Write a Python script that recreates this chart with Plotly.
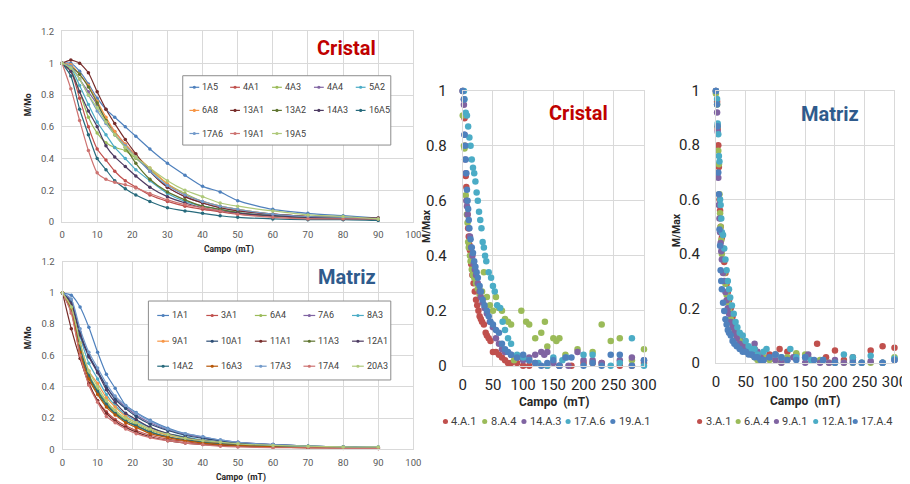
import plotly.graph_objects as go

W, H = 910, 484
FONT = "Roboto, Liberation Sans Narrow, sans-serif"

# ---------------- Excel palette ----------------
C_BLUE, C_RED, C_GREEN, C_PURPLE, C_AQUA, C_ORANGE = "#4F81BD", "#C0504D", "#9BBB59", "#8064A2", "#4BACC6", "#F79646"
C_DBLUE, C_DRED, C_DGREEN, C_DPURPLE, C_DTEAL, C_DORANGE = "#2C4D75", "#772C2A", "#5F7530", "#4D3B62", "#276A7C", "#B65708"
C_LBLUE, C_LRED, C_LGREEN = "#729ACA", "#CD7371", "#AFC97A"

# ---------------- Line charts (M/Mo vs Campo) ----------------
field_mT = [0, 2.5, 5, 7.5, 10, 12.5, 15, 18, 21, 25, 30, 35, 40, 45, 50, 60, 70, 80, 90]
x_ticks_left = [0, 10, 20, 30, 40, 50, 60, 70, 80, 90, 100]

# Cristal series
cr_1A5 = [1, 1.0, 0.95, 0.87, 0.78, 0.71, 0.66, 0.6, 0.54, 0.46, 0.37, 0.295, 0.225, 0.19, 0.135, 0.08, 0.055, 0.04, 0.025]
cr_4A1 = [1, 0.95, 0.78, 0.6, 0.46, 0.39, 0.32, 0.26, 0.22, 0.17, 0.13, 0.1, 0.08, 0.065, 0.05, 0.035, 0.025, 0.02, 0.02]
cr_4A3 = [1, 0.96, 0.82, 0.66, 0.56, 0.5, 0.47, 0.45, 0.4, 0.33, 0.24, 0.18, 0.13, 0.1, 0.08, 0.05, 0.035, 0.025, 0.02]
cr_4A4 = [1, 0.98, 0.9, 0.82, 0.74, 0.64, 0.57, 0.49, 0.42, 0.32, 0.22, 0.16, 0.12, 0.09, 0.07, 0.05, 0.035, 0.03, 0.02]
cr_5A2 = [1, 0.97, 0.86, 0.74, 0.63, 0.55, 0.47, 0.4, 0.33, 0.26, 0.18, 0.13, 0.1, 0.08, 0.06, 0.04, 0.03, 0.02, 0.02]
cr_6A8 = [1, 0.99, 0.93, 0.86, 0.76, 0.66, 0.57, 0.49, 0.42, 0.34, 0.24, 0.17, 0.13, 0.1, 0.08, 0.05, 0.035, 0.025, 0.02]
cr_13A1 = [1, 1.02, 1.0, 0.94, 0.82, 0.71, 0.62, 0.52, 0.43, 0.32, 0.22, 0.16, 0.12, 0.09, 0.07, 0.05, 0.035, 0.03, 0.025]
cr_13A2 = [1, 0.98, 0.93, 0.85, 0.75, 0.64, 0.55, 0.47, 0.37, 0.27, 0.19, 0.14, 0.1, 0.08, 0.06, 0.04, 0.03, 0.025, 0.02]
cr_14A3 = [1, 0.95, 0.82, 0.7, 0.6, 0.48, 0.41, 0.35, 0.29, 0.22, 0.16, 0.12, 0.09, 0.07, 0.055, 0.04, 0.03, 0.02, 0.02]
cr_16A5 = [1, 0.92, 0.71, 0.55, 0.4, 0.33, 0.26, 0.21, 0.17, 0.13, 0.09, 0.07, 0.055, 0.04, 0.03, 0.02, 0.015, 0.015, 0.01]
cr_17A6 = [1, 0.98, 0.9, 0.8, 0.7, 0.62, 0.55, 0.48, 0.41, 0.32, 0.23, 0.17, 0.13, 0.1, 0.08, 0.05, 0.035, 0.03, 0.02]
cr_19A1 = [1, 0.84, 0.64, 0.45, 0.31, 0.27, 0.25, 0.235, 0.215, 0.18, 0.14, 0.11, 0.09, 0.07, 0.05, 0.03, 0.02, 0.02, 0.02]
cr_19A5 = [1, 0.97, 0.9, 0.8, 0.72, 0.63, 0.55, 0.47, 0.41, 0.34, 0.26, 0.2, 0.16, 0.12, 0.1, 0.07, 0.045, 0.035, 0.02]

cristal_names = ["1A5", "4A1", "4A3", "4A4", "5A2", "6A8", "13A1", "13A2", "14A3", "16A5", "17A6", "19A1", "19A5"]
cristal_values = [cr_1A5, cr_4A1, cr_4A3, cr_4A4, cr_5A2, cr_6A8, cr_13A1, cr_13A2, cr_14A3, cr_16A5, cr_17A6, cr_19A1, cr_19A5]
cristal_colors = [C_BLUE, C_RED, C_GREEN, C_PURPLE, C_AQUA, C_ORANGE, C_DRED, C_DGREEN, C_DPURPLE, C_DTEAL, C_LBLUE, C_LRED, C_LGREEN]

# Matriz series
mt_1A1 = [1, 0.985, 0.91, 0.78, 0.62, 0.48, 0.39, 0.28, 0.235, 0.185, 0.135, 0.1, 0.08, 0.06, 0.045, 0.03, 0.02, 0.015, 0.015]
mt_3A1 = [1, 0.88, 0.6, 0.42, 0.31, 0.24, 0.19, 0.15, 0.12, 0.09, 0.065, 0.05, 0.035, 0.03, 0.02, 0.015, 0.01, 0.01, 0.005]
mt_6A4 = [1, 0.9, 0.66, 0.48, 0.38, 0.3, 0.24, 0.19, 0.16, 0.12, 0.09, 0.07, 0.05, 0.04, 0.03, 0.02, 0.015, 0.01, 0.01]
mt_7A6 = [1, 0.95, 0.75, 0.6, 0.5, 0.4, 0.33, 0.27, 0.22, 0.17, 0.125, 0.095, 0.075, 0.055, 0.045, 0.03, 0.02, 0.015, 0.01]
mt_8A3 = [1, 0.93, 0.72, 0.55, 0.45, 0.35, 0.28, 0.22, 0.18, 0.14, 0.1, 0.08, 0.06, 0.045, 0.035, 0.025, 0.02, 0.015, 0.01]
mt_9A1 = [1, 0.92, 0.68, 0.5, 0.42, 0.33, 0.27, 0.21, 0.17, 0.13, 0.09, 0.07, 0.055, 0.04, 0.03, 0.02, 0.015, 0.01, 0.01]
mt_10A1 = [1, 0.94, 0.74, 0.6, 0.5, 0.4, 0.32, 0.26, 0.21, 0.16, 0.12, 0.09, 0.07, 0.055, 0.04, 0.03, 0.02, 0.015, 0.01]
mt_11A1 = [1, 0.77, 0.58, 0.42, 0.31, 0.23, 0.18, 0.14, 0.11, 0.08, 0.055, 0.04, 0.03, 0.025, 0.02, 0.015, 0.01, 0.01, 0.005]
mt_11A3 = [1, 0.89, 0.63, 0.46, 0.36, 0.28, 0.23, 0.18, 0.15, 0.11, 0.08, 0.06, 0.045, 0.035, 0.025, 0.02, 0.015, 0.01, 0.01]
mt_12A1 = [1, 0.93, 0.73, 0.59, 0.49, 0.38, 0.3, 0.23, 0.19, 0.14, 0.1, 0.075, 0.055, 0.045, 0.035, 0.02, 0.015, 0.01, 0.01]
mt_14A2 = [1, 0.9, 0.65, 0.47, 0.37, 0.29, 0.23, 0.18, 0.15, 0.11, 0.08, 0.06, 0.045, 0.035, 0.03, 0.02, 0.015, 0.01, 0.01]
mt_16A3 = [1, 0.9, 0.62, 0.45, 0.35, 0.27, 0.22, 0.17, 0.14, 0.1, 0.075, 0.055, 0.04, 0.03, 0.025, 0.015, 0.01, 0.01, 0.01]
mt_17A3 = [1, 0.96, 0.77, 0.62, 0.52, 0.42, 0.34, 0.28, 0.23, 0.18, 0.13, 0.1, 0.08, 0.06, 0.045, 0.03, 0.02, 0.015, 0.015]
mt_17A4 = [1, 0.87, 0.6, 0.41, 0.3, 0.21, 0.17, 0.13, 0.1, 0.075, 0.055, 0.04, 0.03, 0.02, 0.015, 0.01, 0.01, 0.005, 0.005]
mt_20A3 = [1, 0.91, 0.68, 0.5, 0.4, 0.31, 0.25, 0.2, 0.17, 0.13, 0.095, 0.07, 0.055, 0.045, 0.035, 0.025, 0.02, 0.015, 0.015]

matriz_names = ["1A1", "3A1", "6A4", "7A6", "8A3", "9A1", "10A1", "11A1", "11A3", "12A1", "14A2", "16A3", "17A3", "17A4", "20A3"]
matriz_values = [mt_1A1, mt_3A1, mt_6A4, mt_7A6, mt_8A3, mt_9A1, mt_10A1, mt_11A1, mt_11A3, mt_12A1, mt_14A2, mt_16A3, mt_17A3, mt_17A4, mt_20A3]
matriz_colors = [C_BLUE, C_RED, C_GREEN, C_PURPLE, C_AQUA, C_ORANGE, C_DBLUE, C_DRED, C_DGREEN, C_DPURPLE, C_DTEAL, C_DORANGE, C_LBLUE, C_LRED, C_LGREEN]

# ---------------- Scatter charts (M/Max vs Campo) ----------------
x_ticks_right = [0, 50, 100, 150, 200, 250, 300]

sc_4A1_x = [0, 2, 3, 4, 5, 6, 7, 8, 9, 10, 11, 12, 14, 16, 18, 20, 22, 24, 26, 28, 30, 32, 35, 38, 40, 43, 46, 50, 55, 60, 65, 70, 75, 80, 90, 100, 110, 120, 140, 160, 180, 200, 215, 230, 260, 280, 300]
sc_4A1_y = [1.0, 0.97, 0.9, 0.8, 0.69, 0.65, 0.6, 0.55, 0.5, 0.47, 0.44, 0.42, 0.37, 0.33, 0.3, 0.27, 0.24, 0.22, 0.2, 0.18, 0.17, 0.16, 0.15, 0.12, 0.11, 0.1, 0.09, 0.05, 0.05, 0.04, 0.03, 0.02, 0.01, 0.01, 0.01, 0.0, 0.0, 0.01, 0.0, 0.0, 0.0, 0.01, 0.01, 0.01, 0.0, 0.0, 0.01]

sc_8A4_x = [0, 2, 3, 5, 7, 8, 9, 10, 12, 13, 15, 17, 19, 22, 25, 28, 32, 35, 40, 45, 50, 55, 60, 65, 70, 75, 80, 85, 97, 105, 110, 120, 130, 136, 140, 150, 155, 160, 170, 190, 215, 230, 245, 260, 280, 300]
sc_8A4_y = [0.91, 0.8, 0.79, 0.62, 0.55, 0.52, 0.45, 0.43, 0.4, 0.38, 0.35, 0.33, 0.32, 0.3, 0.28, 0.26, 0.27, 0.34, 0.25, 0.22, 0.2, 0.25, 0.21, 0.2, 0.17, 0.16, 0.15, 0.02, 0.2, 0.16, 0.15, 0.1, 0.12, 0.16, 0.07, 0.1, 0.09, 0.1, 0.04, 0.06, 0.05, 0.15, 0.09, 0.1, 0.02, 0.06]

sc_14A3_x = [0, 2, 3, 4, 5, 6, 7, 8, 10, 12, 14, 16, 18, 20, 22, 25, 28, 30, 33, 36, 40, 45, 50, 55, 60, 65, 70, 80, 90, 100, 110, 120, 130, 135, 140, 150, 160, 175, 190, 200, 215, 230, 260, 280, 300]
sc_14A3_y = [1.0, 0.95, 0.84, 0.75, 0.7, 0.6, 0.58, 0.55, 0.5, 0.47, 0.43, 0.4, 0.37, 0.35, 0.33, 0.3, 0.27, 0.25, 0.23, 0.21, 0.19, 0.16, 0.14, 0.1, 0.08, 0.06, 0.05, 0.04, 0.03, 0.02, 0.03, 0.04, 0.05, 0.04, 0.05, 0.01, 0.0, 0.0, 0.05, 0.02, 0.02, 0.01, 0.02, 0.03, 0.02]

sc_17A6_x = [2, 3, 5, 7, 9, 11, 13, 15, 17, 19, 21, 23, 25, 27, 29, 31, 33, 35, 37, 39, 43, 47, 50, 53, 57, 62, 66, 70, 75, 80, 90, 100, 110, 125, 140, 150, 165, 172, 200, 215, 245, 260, 280, 300]
sc_17A6_y = [1.0, 0.97, 0.92, 0.91, 0.87, 0.83, 0.8, 0.75, 0.72, 0.7, 0.67, 0.63, 0.6, 0.56, 0.53, 0.5, 0.45, 0.43, 0.4, 0.38, 0.34, 0.32, 0.29, 0.27, 0.22, 0.21, 0.16, 0.13, 0.1, 0.08, 0.04, 0.03, 0.02, 0.01, 0.0, 0.03, 0.02, 0.03, 0.04, 0.04, 0.0, 0.01, 0.1, 0.0]

sc_19A1_x = [0, 2, 3, 4, 5, 6, 7, 8, 9, 10, 11, 13, 15, 17, 19, 21, 23, 25, 28, 30, 33, 36, 40, 43, 46, 50, 55, 60, 65, 70, 75, 80, 90, 100, 110, 120, 130, 140, 150, 160, 170, 180, 200, 215, 230, 245, 260, 280, 300]
sc_19A1_y = [1.0, 0.97, 0.84, 0.8, 0.75, 0.7, 0.64, 0.6, 0.57, 0.53, 0.5, 0.46, 0.43, 0.41, 0.38, 0.36, 0.34, 0.32, 0.29, 0.27, 0.24, 0.22, 0.2, 0.18, 0.16, 0.15, 0.13, 0.12, 0.08, 0.06, 0.05, 0.04, 0.03, 0.04, 0.02, 0.01, 0.0, 0.01, 0.02, 0.0, 0.03, 0.03, 0.0, 0.01, 0.0, 0.04, 0.04, 0.0, 0.02]

sc_3A1_x = [0, 2, 3, 4, 5, 6, 7, 8, 9, 10, 12, 14, 16, 18, 20, 22, 25, 28, 31, 34, 38, 42, 46, 50, 55, 60, 65, 70, 75, 80, 90, 100, 107, 120, 135, 150, 170, 185, 200, 215, 230, 260, 280, 300]
sc_3A1_y = [1.0, 0.96, 0.86, 0.8, 0.72, 0.6, 0.56, 0.5, 0.48, 0.46, 0.42, 0.37, 0.33, 0.29, 0.26, 0.23, 0.2, 0.17, 0.14, 0.12, 0.1, 0.08, 0.07, 0.06, 0.05, 0.04, 0.05, 0.03, 0.01, 0.02, 0.03, 0.03, 0.05, 0.04, 0.03, 0.02, 0.07, 0.02, 0.045, 0.01, 0.02, 0.045, 0.06, 0.055]

sc_6A4_x = [0, 2, 3, 4, 5, 6, 7, 8, 9, 10, 12, 14, 16, 18, 20, 22, 25, 28, 31, 35, 40, 45, 50, 55, 60, 65, 70, 80, 90, 100, 110, 120, 135, 150, 160, 175, 190, 200, 215, 230, 245, 260, 280, 300]
sc_6A4_y = [0.99, 0.95, 0.87, 0.78, 0.73, 0.62, 0.55, 0.5, 0.45, 0.4, 0.38, 0.33, 0.29, 0.25, 0.22, 0.19, 0.16, 0.14, 0.12, 0.1, 0.08, 0.07, 0.05, 0.04, 0.03, 0.02, 0.01, 0.02, 0.01, 0.01, 0.0, 0.02, 0.035, 0.03, 0.01, 0.01, 0.0, 0.0, 0.0, 0.0, 0.0, 0.0, 0.0, 0.02]

sc_9A1_x = [0, 2, 3, 4, 5, 6, 7, 8, 9, 10, 12, 14, 16, 18, 20, 22, 25, 28, 31, 35, 40, 45, 50, 55, 60, 65, 70, 75, 80, 90, 100, 110, 120, 130, 150, 155, 160, 175, 190, 200, 215, 230, 260, 280, 300]
sc_9A1_y = [1.0, 0.92, 0.85, 0.68, 0.58, 0.53, 0.48, 0.44, 0.41, 0.38, 0.33, 0.3, 0.26, 0.23, 0.2, 0.18, 0.15, 0.13, 0.11, 0.09, 0.07, 0.06, 0.05, 0.04, 0.03, 0.07, 0.04, 0.02, 0.01, 0.02, 0.01, 0.0, 0.01, 0.02, 0.0, 0.03, 0.01, 0.0, 0.0, 0.01, 0.0, 0.01, 0.005, 0.0, 0.01]

sc_12A1_x = [0, 2, 3, 4, 5, 6, 7, 8, 9, 10, 12, 14, 16, 18, 20, 22, 24, 27, 30, 33, 36, 40, 45, 50, 55, 60, 65, 70, 80, 85, 100, 110, 125, 135, 150, 160, 180, 200, 215, 230, 245, 260, 280, 300]
sc_12A1_y = [1.0, 0.97, 0.88, 0.84, 0.76, 0.74, 0.6, 0.58, 0.53, 0.48, 0.47, 0.42, 0.38, 0.34, 0.3, 0.27, 0.24, 0.21, 0.18, 0.15, 0.13, 0.11, 0.1, 0.08, 0.06, 0.05, 0.05, 0.03, 0.04, 0.05, 0.03, 0.02, 0.05, 0.02, 0.02, 0.01, 0.01, 0.0, 0.03, 0.02, 0.0, 0.025, 0.0, 0.015]

sc_17A4_x = [0, 2, 3, 4, 5, 6, 7, 8, 9, 10, 12, 14, 16, 18, 20, 22, 25, 28, 31, 35, 40, 45, 50, 55, 60, 65, 70, 75, 80, 90, 100, 110, 120, 135, 150, 165, 180, 200, 230, 245, 280, 300]
sc_17A4_y = [1.0, 0.95, 0.87, 0.7, 0.62, 0.49, 0.43, 0.34, 0.3, 0.27, 0.22, 0.19, 0.16, 0.14, 0.12, 0.11, 0.1, 0.08, 0.07, 0.06, 0.05, 0.04, 0.04, 0.03, 0.03, 0.02, 0.02, 0.01, 0.01, 0.02, 0.03, 0.02, 0.01, 0.01, 0.02, 0.01, 0.01, 0.0, 0.0, 0.0, 0.0, 0.01]

cristal_sc_names = ["4.A.1", "8.A.4", "14.A.3", "17.A.6", "19.A.1"]
cristal_sc_x = [sc_4A1_x, sc_8A4_x, sc_14A3_x, sc_17A6_x, sc_19A1_x]
cristal_sc_y = [sc_4A1_y, sc_8A4_y, sc_14A3_y, sc_17A6_y, sc_19A1_y]
matriz_sc_names = ["3.A.1", "6.A.4", "9.A.1", "12.A.1", "17.A.4"]
matriz_sc_x = [sc_3A1_x, sc_6A4_x, sc_9A1_x, sc_12A1_x, sc_17A4_x]
matriz_sc_y = [sc_3A1_y, sc_6A4_y, sc_9A1_y, sc_12A1_y, sc_17A4_y]
sc_colors = [C_RED, C_GREEN, C_PURPLE, C_AQUA, C_BLUE]

# ---------------- Figure ----------------
def px(xp):
    return xp / W

def py(yp):
    return 1 - yp / H

fig = go.Figure()

for name, vals, col in zip(cristal_names, cristal_values, cristal_colors):
    fig.add_trace(go.Scatter(x=field_mT, y=vals, name=name, mode="lines+markers",
                             line=dict(color=col, width=1.2, shape="spline", smoothing=0.6),
                             marker=dict(size=3.5, color=col), xaxis="x", yaxis="y",
                             showlegend=False, cliponaxis=False))
for name, vals, col in zip(matriz_names, matriz_values, matriz_colors):
    fig.add_trace(go.Scatter(x=field_mT, y=vals, name=name, mode="lines+markers",
                             line=dict(color=col, width=1.2, shape="spline", smoothing=0.6),
                             marker=dict(size=3.5, color=col), xaxis="x2", yaxis="y2",
                             showlegend=False, cliponaxis=False))
for name, xs, ys, col in zip(cristal_sc_names, cristal_sc_x, cristal_sc_y, sc_colors):
    fig.add_trace(go.Scatter(x=xs, y=ys, name=name, mode="markers",
                             marker=dict(size=6.5, color=col), xaxis="x3", yaxis="y3",
                             showlegend=False, cliponaxis=False))
for name, xs, ys, col in zip(matriz_sc_names, matriz_sc_x, matriz_sc_y, sc_colors):
    fig.add_trace(go.Scatter(x=xs, y=ys, name=name, mode="markers",
                             marker=dict(size=6.5, color=col), xaxis="x4", yaxis="y4",
                             showlegend=False, cliponaxis=False))

GRID = "#D9D9D9"
small_tick = dict(family=FONT, size=9.5, color="#595959")
big_tick = dict(family=FONT, size=15, color="#262626")

def axis(dom, anchor, rng, dt, font, standoff):
    return dict(domain=dom, anchor=anchor, range=rng, dtick=dt, tick0=0, showgrid=True, gridcolor=GRID,
                gridwidth=1, showline=True, mirror=True, linecolor=GRID, linewidth=1, zeroline=False,
                ticks="", tickfont=font, ticklabelstandoff=standoff, fixedrange=True)

fig.update_layout(
    width=W, height=H, autosize=False,
    margin=dict(l=0, r=0, t=0, b=0),
    paper_bgcolor="white", plot_bgcolor="white",
    font=dict(family=FONT, color="#404040"),
    showlegend=False,
    xaxis=axis([px(51), px(409)], "y", [0, 100], 10, small_tick, 4),
    yaxis=axis([py(213), py(15)], "x", [0, 1.2001], 0.2, small_tick, 5),
    xaxis2=axis([px(51.5), px(409)], "y2", [0, 100], 10, small_tick, 4),
    yaxis2=axis([py(449), py(254)], "x2", [0, 1.2001], 0.2, small_tick, 5),
    xaxis3=axis([px(459.3), px(644)], "y3", [0, 300], 50, big_tick, 5),
    yaxis3=axis([py(362.3), py(76.7)], "x3", [0, 1.0001], 0.2, big_tick, 12),
    xaxis4=axis([px(717.3), px(899.3)], "y4", [0, 300], 50, big_tick, 5),
    yaxis4=axis([py(359), py(76.7)], "x4", [0, 1.0001], 0.2, big_tick, 12),
)

annotations = []
shapes = []

def ann(x, y, text, size, color="#404040", bold=False, angle=0, xanchor="center"):
    annotations.append(dict(x=px(x), y=py(y), xref="paper", yref="paper", text=("<b>%s</b>" % text) if bold else text,
                            showarrow=False, font=dict(family=FONT, size=size, color=color),
                            textangle=angle, xanchor=xanchor, yanchor="middle"))

# Titles
ann(341, 32, "Cristal", 20, "#C00000", bold=True)
ann(341.5, 270, "Matriz", 20, "#2F5B8C", bold=True)
ann(577.5, 100, "Cristal", 20, "#C00000", bold=True)
ann(833.5, 101, "Matriz", 20, "#2F5B8C", bold=True)

# Axis titles
ann(221, 241, "Campo  (mT)", 8.5, "#262626", bold=True)
ann(233, 478, "Campo  (mT)", 8.5, "#262626", bold=True)
ann(16, 91, "M/Mo", 8.5, "#262626", bold=True, angle=-90)
ann(16, 333, "M/Mo", 8.5, "#262626", bold=True, angle=-90)
ann(552, 400, "Campo  (mT)", 12, "#262626", bold=True)
ann(808, 399, "Campo  (mT)", 12, "#262626", bold=True)
ann(423, 217, "M/Max", 10.5, "#262626", bold=True, angle=-90)
ann(677, 221, "M/Max", 10.5, "#262626", bold=True, angle=-90)

# Legend boxes (left charts)
for (x0, y0, x1, y1) in [(174, 61, 386, 133), (139, 295, 386, 377)]:
    shapes.append(dict(type="rect", xref="paper", yref="paper", x0=px(x0), x1=px(x1), y0=py(y1), y1=py(y0),
                       line=dict(color="#8C8C8C", width=1), fillcolor="white", layer="above"))

def line_legend(names, colors, cols_x, rows_y, half):
    for i, (n, c) in enumerate(zip(names, colors)):
        cx = cols_x[i % 5]
        cy = rows_y[i // 5]
        shapes.append(dict(type="line", xref="paper", yref="paper", x0=px(cx - half), x1=px(cx + half),
                           y0=py(cy), y1=py(cy), line=dict(color=c, width=1.2), layer="above"))
        r = 1.6
        shapes.append(dict(type="circle", xref="paper", yref="paper", x0=px(cx - r), x1=px(cx + r),
                           y0=py(cy + r), y1=py(cy - r), line=dict(color=c, width=0), fillcolor=c, layer="above"))
        ann(cx + half + 1, cy, n, 9, "#404040", xanchor="left")

line_legend(cristal_names, cristal_colors, [185.8, 227.3, 270, 312.7, 355.3], [73, 97, 121], 5)
line_legend(matriz_names, matriz_colors, [154, 204, 253.5, 303, 352.5], [310, 336.7, 362.7], 6)

def dot_legend(names, colors, dots_x, y):
    for n, c, cx in zip(names, colors, dots_x):
        r = 2.6
        shapes.append(dict(type="circle", xref="paper", yref="paper", x0=px(cx - r), x1=px(cx + r),
                           y0=py(y + r), y1=py(y - r), line=dict(color=c, width=0), fillcolor=c, layer="above"))
        ann(cx + 4, y, n, 11, "#404040", xanchor="left")

dot_legend(cristal_sc_names, sc_colors, [441.7, 481.7, 521.7, 566.7, 612.3], 420)
dot_legend(matriz_sc_names, sc_colors, [700.7, 740, 779, 819, 859.3], 420)

fig.update_layout(annotations=annotations, shapes=shapes)

fig.write_html("out.html")
